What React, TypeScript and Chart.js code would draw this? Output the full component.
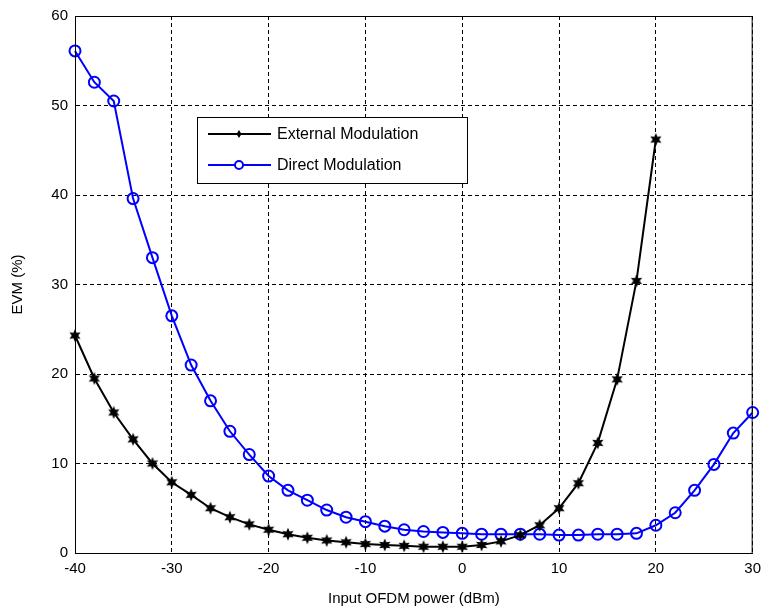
import React, { useEffect, useRef } from "react";
import { Chart, registerables } from "chart.js";

Chart.register(...registerables);

const externalX = [-40, -38, -36, -34, -32, -30, -28, -26, -24, -22, -20, -18, -16, -14, -12, -10, -8, -6, -4, -2, 0, 2, 4, 6, 8, 10, 12, 14, 16, 18, 20];
const externalY = [24.3, 19.5, 15.7, 12.7, 10.0, 7.9, 6.5, 5.0, 4.0, 3.2, 2.6, 2.1, 1.7, 1.4, 1.2, 1.0, 0.9, 0.8, 0.7, 0.7, 0.7, 0.9, 1.3, 2.0, 3.1, 5.0, 7.8, 12.3, 19.4, 30.4, 46.2];

const directX = [-40, -38, -36, -34, -32, -30, -28, -26, -24, -22, -20, -18, -16, -14, -12, -10, -8, -6, -4, -2, 0, 2, 4, 6, 8, 10, 12, 14, 16, 18, 20, 22, 24, 26, 28, 30];
const directY = [56.1, 52.6, 50.5, 39.6, 33.0, 26.5, 21.0, 17.0, 13.6, 11.0, 8.6, 7.0, 5.9, 4.8, 4.0, 3.5, 3.0, 2.6, 2.4, 2.3, 2.2, 2.1, 2.1, 2.1, 2.1, 2.0, 2.0, 2.1, 2.1, 2.2, 3.1, 4.5, 7.0, 9.9, 13.4, 15.7];

const seriesNames = ["External Modulation", "Direct Modulation"];
const xTicks = [-40, -30, -20, -10, 0, 10, 20, 30];
const yTicks = [0, 10, 20, 30, 40, 50, 60];

const FONT = "Arial, 'Liberation Sans', sans-serif";

function makeStar(size: number, outer: number, inner: number, n: number): HTMLCanvasElement {
  const c = document.createElement("canvas");
  c.width = size;
  c.height = size;
  const ctx = c.getContext("2d")!;
  const cx = size / 2;
  const cy = size / 2;
  ctx.beginPath();
  for (let i = 0; i < n * 2; i++) {
    const r = i % 2 === 0 ? outer : inner;
    const a = -Math.PI / 2 + (i * Math.PI) / n;
    const px = cx + r * Math.cos(a);
    const py = cy + r * Math.sin(a);
    if (i === 0) ctx.moveTo(px, py);
    else ctx.lineTo(px, py);
  }
  ctx.closePath();
  ctx.fillStyle = "#000";
  ctx.fill();
  return c;
}

export default function App() {
  const ref = useRef<HTMLCanvasElement>(null);

  useEffect(() => {
    if (!ref.current) return;
    const star = makeStar(14, 6.5, 3.2, 6);

    const boxPlugin = {
      id: "boxPlugin",
      afterDraw(chart: any) {
        const { ctx, chartArea } = chart;
        ctx.save();
        ctx.strokeStyle = "#000";
        ctx.lineWidth = 1;
        ctx.setLineDash([]);
        ctx.strokeRect(chartArea.left + 0.5, chartArea.top + 0.5, chartArea.right - chartArea.left - 1, chartArea.bottom - chartArea.top);
        // legend
        const lx = 197, ly = 117, lw = 270, lh = 66;
        ctx.fillStyle = "#fff";
        ctx.fillRect(lx, ly, lw, lh);
        ctx.strokeRect(lx + 0.5, ly + 0.5, lw, lh);
        const rows = [
          { y: ly + 17, color: "#000", name: seriesNames[0], marker: "star" },
          { y: ly + 48, color: "#0000ff", name: seriesNames[1], marker: "circle" },
        ];
        rows.forEach((r) => {
          ctx.strokeStyle = r.color;
          ctx.lineWidth = 2;
          ctx.beginPath();
          ctx.moveTo(lx + 11, r.y);
          ctx.lineTo(lx + 74, r.y);
          ctx.stroke();
          const mx = lx + 42;
          if (r.marker === "star") {
            ctx.fillStyle = "#000";
            ctx.beginPath();
            ctx.moveTo(mx, r.y - 4);
            ctx.lineTo(mx + 2.5, r.y);
            ctx.lineTo(mx, r.y + 4);
            ctx.lineTo(mx - 2.5, r.y);
            ctx.closePath();
            ctx.fill();
          } else {
            ctx.beginPath();
            ctx.arc(mx, r.y, 4, 0, Math.PI * 2);
            ctx.fillStyle = "#fff";
            ctx.fill();
            ctx.stroke();
          }
          ctx.fillStyle = "#000";
          ctx.font = `16px ${FONT}`;
          ctx.textBaseline = "middle";
          ctx.textAlign = "left";
          ctx.fillText(r.name, lx + 80, r.y + 1);
        });
        ctx.restore();
      },
    };

    const chart = new Chart(ref.current, {
      type: "line",
      data: {
        datasets: [
          {
            label: seriesNames[0],
            data: externalX.map((x, i) => ({ x, y: externalY[i] })),
            borderColor: "#000",
            backgroundColor: "#000",
            borderWidth: 2,
            pointStyle: star as any,
            pointRadius: 6,
            tension: 0,
            clip: false as any,
          },
          {
            label: seriesNames[1],
            data: directX.map((x, i) => ({ x, y: directY[i] })),
            borderColor: "#0000ff",
            backgroundColor: "rgba(0,0,0,0)",
            borderWidth: 2,
            pointStyle: "circle",
            pointRadius: 5.5,
            pointBorderWidth: 2,
            tension: 0,
            clip: false as any,
          },
        ],
      },
      options: {
        animation: false,
        responsive: false,
        maintainAspectRatio: false,
        layout: { padding: { left: 0, right: 11, top: 16, bottom: 0 } },
        plugins: {
          legend: { display: false },
          tooltip: { enabled: false },
        },
        scales: {
          x: {
            type: "linear",
            min: -40,
            max: 30,
            afterBuildTicks: (s: any) => {
              s.ticks = xTicks.map((v) => ({ value: v }));
            },
            afterFit: (s: any) => {
              s.height = 59;
            },
            ticks: {
              color: "#000",
              font: { size: 15, family: FONT },
              padding: 7,
              maxRotation: 0,
            },
            grid: { color: "#000", lineWidth: 1, drawTicks: false },
            border: { display: true, color: "#000", width: 1, dash: [4, 3] },
            title: {
              display: true,
              text: "Input OFDM power (dBm)",
              color: "#000",
              font: { size: 15, family: FONT },
              padding: { top: 4, bottom: 4 },
            },
          },
          y: {
            type: "linear",
            min: 0,
            max: 60,
            afterBuildTicks: (s: any) => {
              s.ticks = yTicks.map((v) => ({ value: v }));
            },
            afterFit: (s: any) => {
              s.width = 75;
            },
            ticks: {
              color: "#000",
              font: { size: 15, family: FONT },
              padding: 7,
            },
            grid: { color: "#000", lineWidth: 1, drawTicks: false },
            border: { display: true, color: "#000", width: 1, dash: [4, 3] },
            title: {
              display: true,
              text: "EVM (%)",
              color: "#000",
              font: { size: 15, family: FONT },
              padding: { top: 9, bottom: 4 },
            },
          },
        },
      },
      plugins: [boxPlugin],
    });
    return () => chart.destroy();
  }, []);

  return (
    <div style={{ position: "fixed", left: 0, top: 0, width: 768, height: 612, background: "#fff" }}>
      <canvas ref={ref} width={768} height={612} style={{ width: 768, height: 612 }} />
    </div>
  );
}
